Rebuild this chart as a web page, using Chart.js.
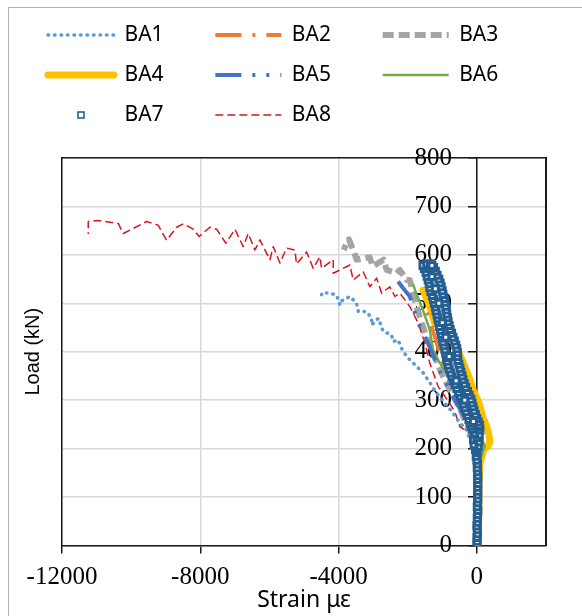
<!DOCTYPE html>
<html lang="en">
  <head>
    <meta charset="UTF-8" />
    <title>Load - strain curves BA1 to BA8</title>
    <style>
      body {
        margin: 0;
        background: #fff;
        overflow: hidden;
      }
      /* thin grey outline of the chart object */
      .frame {
        position: absolute;
        left: 8px;
        top: 7px;
        width: 620px;
        height: 660px;
        border-left: 1px solid #b4b4b4;
        border-top: 1px solid #b4b4b4;
      }
      .chartContainer {
        position: absolute;
        left: 0;
        top: 0;
        width: 582px;
        height: 616px;
      }
    </style>
    <script src="https://cdn.jsdelivr.net/npm/chart.js"></script>
  </head>
  <body>
    <div class="frame"></div>
    <div class="chartContainer">
      <canvas id="loadChart"></canvas>
    </div>

    <script>
      // [strain (microstrain), load (kN)]
      const BA1 = [
        [0, 0], [10, 60], [0, 120], [-30, 170], [-100, 200], [-200, 218], [-300, 239],
        [-490, 253], [-730, 277], [-1000, 300], [-1200, 318], [-1350, 335], [-1550, 356],
        [-1790, 373], [-2030, 390], [-2180, 407], [-2275, 424], [-2420, 421], [-2470, 435],
        [-2710, 442], [-2760, 452], [-2850, 469], [-3045, 455], [-3045, 469], [-3190, 483],
        [-3430, 483], [-3480, 500], [-3670, 514], [-3960, 503], [-3960, 497], [-4060, 517],
        [-4250, 521], [-4490, 521], [-4490, 510]
      ];
      const BA2 = [
        [0, 0], [10, 100], [30, 180], [80, 210], [40, 232], [-100, 255], [-300, 280],
        [-500, 305], [-700, 335], [-900, 365], [-1050, 390], [-1170, 420], [-1300, 450],
        [-1420, 475], [-1500, 490]
      ];
      const BA3 = [
        [0, 0], [0, 150], [-50, 215], [-200, 245], [-350, 258], [-500, 285], [-780, 321],
        [-980, 349], [-1200, 385], [-1400, 420], [-1600, 460], [-1750, 495], [-1850, 521],
        [-1940, 548], [-2030, 548], [-2230, 569], [-2320, 562], [-2610, 569], [-2700, 590],
        [-3010, 576], [-3100, 595], [-3480, 590], [-3550, 605], [-3700, 632], [-3780, 622],
        [-3850, 610]
      ];
      const BA4 = [
        [30, 0], [40, 60], [60, 120], [90, 170], [200, 198], [330, 205], [380, 215],
        [330, 235], [260, 250], [170, 265], [100, 285], [30, 300], [-100, 320], [-200, 342],
        [-380, 375], [-590, 410], [-800, 430], [-1000, 445], [-1215, 459], [-1350, 490],
        [-1450, 510], [-1560, 527]
      ];
      const BA5 = [
        [0, 0], [0, 100], [20, 180], [0, 215], [-150, 240], [-350, 265], [-600, 295],
        [-850, 330], [-1070, 360], [-1250, 390], [-1360, 410], [-1455, 424], [-1648, 452],
        [-1793, 480], [-1938, 514], [-2131, 531], [-2276, 545]
      ];
      const BA6 = [
        [0, 0], [20, 100], [60, 170], [200, 200], [230, 205], [150, 220], [90, 225],
        [-100, 250], [-300, 275], [-490, 300], [-700, 330], [-880, 356], [-1100, 380],
        [-1270, 404], [-1360, 445], [-1560, 486], [-1750, 520], [-1850, 540]
      ];
      const BA7 = [
        // straight part near zero strain
        [0, 0], [10, 8], [0, 16], [20, 24], [10, 32], [0, 40], [20, 48], [10, 56], [20, 64],
        [30, 72], [10, 80], [20, 88], [30, 96], [20, 104], [30, 112], [20, 120], [30, 128],
        [20, 136], [30, 144], [20, 152], [10, 160], [20, 168], [0, 176], [-20, 184], [10, 192],
        [-40, 198], [40, 204], [-80, 208], [60, 214], [-100, 218], [0, 222], [70, 228],
        [-60, 232], [90, 238], [-130, 240], [40, 244], [-160, 246], [80, 248],
        // right edge of the band
        [40, 255], [0, 262], [-40, 270], [-80, 278], [-110, 286], [-140, 294], [-170, 302],
        [-220, 310], [-270, 318], [-320, 326], [-360, 334], [-400, 342], [-430, 350],
        [-460, 358], [-490, 366], [-520, 374], [-550, 382], [-560, 390], [-560, 398],
        [-580, 406], [-610, 414], [-650, 422], [-690, 430], [-730, 438], [-770, 446],
        [-800, 454], [-830, 462], [-850, 470], [-870, 478], [-880, 486], [-900, 494],
        [-920, 502], [-950, 510], [-980, 518], [-1000, 526], [-1030, 534], [-1060, 542],
        [-1100, 550], [-1150, 558], [-1200, 566], [-1250, 574],
        // left edge of the band
        [-200, 252], [-230, 260], [-270, 268], [-310, 276], [-350, 284], [-390, 292],
        [-430, 300], [-480, 308], [-530, 316], [-580, 324], [-630, 332], [-680, 340],
        [-720, 348], [-760, 356], [-800, 364], [-830, 372], [-860, 380], [-880, 388],
        [-900, 396], [-920, 404], [-950, 412], [-980, 420], [-1000, 428], [-1030, 436],
        [-1050, 444], [-1080, 452], [-1100, 460], [-1130, 468], [-1150, 476], [-1180, 484],
        [-1200, 492], [-1230, 500], [-1260, 508], [-1290, 516], [-1330, 524], [-1360, 532],
        [-1380, 540], [-1410, 548], [-1440, 556], [-1470, 564], [-1520, 572], [-1560, 578],
        // inside the band and the top
        [-100, 256], [-350, 300], [-600, 340], [-800, 390], [-900, 430], [-1000, 460],
        [-1100, 500], [-1200, 530], [-1300, 555], [-1400, 575], [-1450, 581], [-1350, 581],
        [-1300, 578]
      ];
      const BA8 = [
        [0, 0], [0, 60], [10, 135], [-40, 190], [-116, 224], [-202, 232], [-492, 245],
        [-636, 276], [-850, 300], [-1119, 328], [-1359, 376], [-1504, 418], [-1697, 459],
        [-1938, 493], [-2227, 521], [-2371, 514], [-2516, 534], [-2756, 521], [-2900, 552],
        [-3094, 534], [-3288, 565], [-3577, 548], [-3673, 579], [-4155, 562], [-4155, 590],
        [-4491, 572], [-4540, 596], [-4733, 572], [-4925, 606], [-5216, 581], [-5264, 610],
        [-5504, 614], [-5697, 583], [-5890, 617], [-5986, 590], [-6276, 631], [-6420, 610],
        [-6614, 644], [-6759, 617], [-6999, 653], [-7259, 624], [-7528, 653], [-7722, 657],
        [-8031, 638], [-8205, 653], [-8494, 664], [-8685, 657], [-8975, 630], [-9216, 661],
        [-9552, 669], [-10035, 651], [-10229, 644], [-10373, 665], [-10950, 671],
        [-11241, 669], [-11241, 643]
      ];

      const seriesLabels = ["BA1", "BA2", "BA3", "BA4", "BA5", "BA6", "BA7", "BA8"];
      const xTickValues = [-12000, -8000, -4000, 0];
      const xTitle = "Strain \u03bc\u03b5";
      const yTitle = "Load (kN)";

      Chart.defaults.font.family = "Liberation Sans";
      Chart.defaults.color = "#000";

      // line series helper
      function lineSet(label, data, color, width, dash, order, cap) {
        return {
          label: label,
          data: data,
          showLine: true,
          borderColor: color,
          backgroundColor: color,
          borderWidth: width,
          borderDash: dash,
          borderCapStyle: cap || "butt",
          borderJoinStyle: "round",
          pointRadius: 0,
          pointHoverRadius: 0,
          order: order,
        };
      }

      // small open square for the BA7 legend entry
      function squareIcon() {
        const c = document.createElement("canvas");
        c.width = 10;
        c.height = 10;
        const g = c.getContext("2d");
        g.fillStyle = "#fff";
        g.strokeStyle = "#255E91";
        g.lineWidth = 1.6;
        g.fillRect(2, 2, 6, 6);
        g.strokeRect(2, 2, 6, 6);
        return c;
      }
      const ba7Icon = squareIcon();

      const datasets = [
        lineSet(seriesLabels[0], BA1, "#5B9BD5", 3.5, [0.5, 6], 1, "round"),
        lineSet(seriesLabels[1], BA2, "#ED7D31", 4, [26, 11, 3, 11], 5),
        lineSet(seriesLabels[2], BA3, "#A5A5A5", 6, [11, 5], 7),
        lineSet(seriesLabels[3], BA4, "#FFC000", 7, [], 6, "round"),
        lineSet(seriesLabels[4], BA5, "#4472C4", 4, [26, 11, 3, 11, 3, 11], 2),
        lineSet(seriesLabels[5], BA6, "#70AD47", 2.5, [], 4),
        {
          label: seriesLabels[6],
          data: BA7,
          showLine: false,
          pointStyle: "rect",
          pointRadius: 4.2,
          pointHoverRadius: 4.2,
          pointBorderWidth: 3,
          pointBorderColor: "#255E91",
          pointBackgroundColor: "#fff",
          borderColor: "#255E91",
          backgroundColor: "#fff",
          order: 0,
        },
        lineSet(seriesLabels[7], BA8, "#D9141E", 1.5, [8, 4], 3),
      ];

      const serif = { family: "Liberation Serif", size: 25 };
      const black = "#1a1a1a";

      const ctx = document.getElementById("loadChart").getContext("2d");
      const loadChart = new Chart(ctx, {
        type: "scatter",
        data: { datasets: datasets },
        options: {
          responsive: true,
          maintainAspectRatio: false,
          animation: false,
          events: [],
          layout: { padding: { left: 29, right: 20, top: 5.5, bottom: 2 } },
          plugins: {
            tooltip: { enabled: false },
            legend: {
              position: "top",
              align: "start",
              labels: {
                usePointStyle: true,
                pointStyleWidth: 66,
                padding: 19,
                color: "#000",
                font: { family: "Noto Sans", size: 21 },
                // keep the entries on a three column grid
                generateLabels: function (chart) {
                  return chart.data.datasets.map(function (ds, i) {
                    return {
                      text: ds.label + "      ",
                      fillStyle: ds.backgroundColor,
                      strokeStyle: ds.borderColor,
                      lineWidth: ds.showLine ? ds.borderWidth : 0,
                      lineDash: ds.borderDash || [],
                      lineCap: ds.borderCapStyle || "butt",
                      pointStyle: ds.showLine ? "line" : ba7Icon,
                      fontColor: "#000",
                      hidden: !chart.isDatasetVisible(i),
                      datasetIndex: i,
                    };
                  });
                },
              },
            },
          },
          scales: {
            x: {
              type: "linear",
              position: "bottom",
              min: -12000,
              max: 2000,
              afterBuildTicks: function (scale) {
                scale.ticks = xTickValues.map((v) => ({ value: v }));
              },
              ticks: {
                padding: 9,
                font: serif,
                color: "#000",
                callback: (v) => String(v),
              },
              grid: { color: "#d9d9d9", lineWidth: 1.5, tickLength: 8, tickColor: black },
              border: { color: black, width: 1.5 },
              title: {
                display: true,
                text: xTitle,
                font: { family: "Noto Sans", size: 23 },
                padding: { top: -15, bottom: 0 },
              },
            },
            xt: {
              axis: "x",
              type: "linear",
              position: "top",
              min: -12000,
              max: 2000,
              ticks: { display: false },
              grid: { display: false, drawTicks: false },
              border: { color: black, width: 1.5 },
              afterFit: function (scale) {
                scale.height = 22.5;
              },
            },
            y: {
              type: "linear",
              position: "left",
              min: 0,
              max: 800,
              ticks: { display: false, stepSize: 100 },
              grid: { color: "#d9d9d9", lineWidth: 1.5, drawTicks: false },
              border: { color: black, width: 1.5 },
              title: {
                display: true,
                text: yTitle,
                font: { family: "Liberation Sans", size: 20 },
                padding: { top: -8, bottom: 17 },
              },
            },
            yr: {
              axis: "y",
              type: "linear",
              position: "right",
              min: 0,
              max: 800,
              ticks: { display: false },
              grid: { display: false, drawTicks: false },
              border: { color: black, width: 2 },
              afterFit: function (scale) {
                scale.width = 16;
              },
            },
            // vertical axis line crossing at strain 0, with outward tick marks
            yt: {
              axis: "y",
              type: "linear",
              position: { x: 0 },
              min: 0,
              max: 800,
              ticks: { display: false, stepSize: 100 },
              grid: { drawOnChartArea: false, tickLength: 8, tickColor: black, lineWidth: 1.5 },
              border: { color: black, width: 1.5 },
            },
            // its labels, set a little to the left of the line, drawn over the data
            yl: {
              axis: "y",
              type: "linear",
              position: { x: -720 },
              min: 0,
              max: 800,
              z: 1,
              ticks: { stepSize: 100, font: serif, color: "#000", callback: (v) => String(v) },
              grid: { display: false },
              border: { display: false },
            },
          },
        },
      });
    </script>
  </body>
</html>
